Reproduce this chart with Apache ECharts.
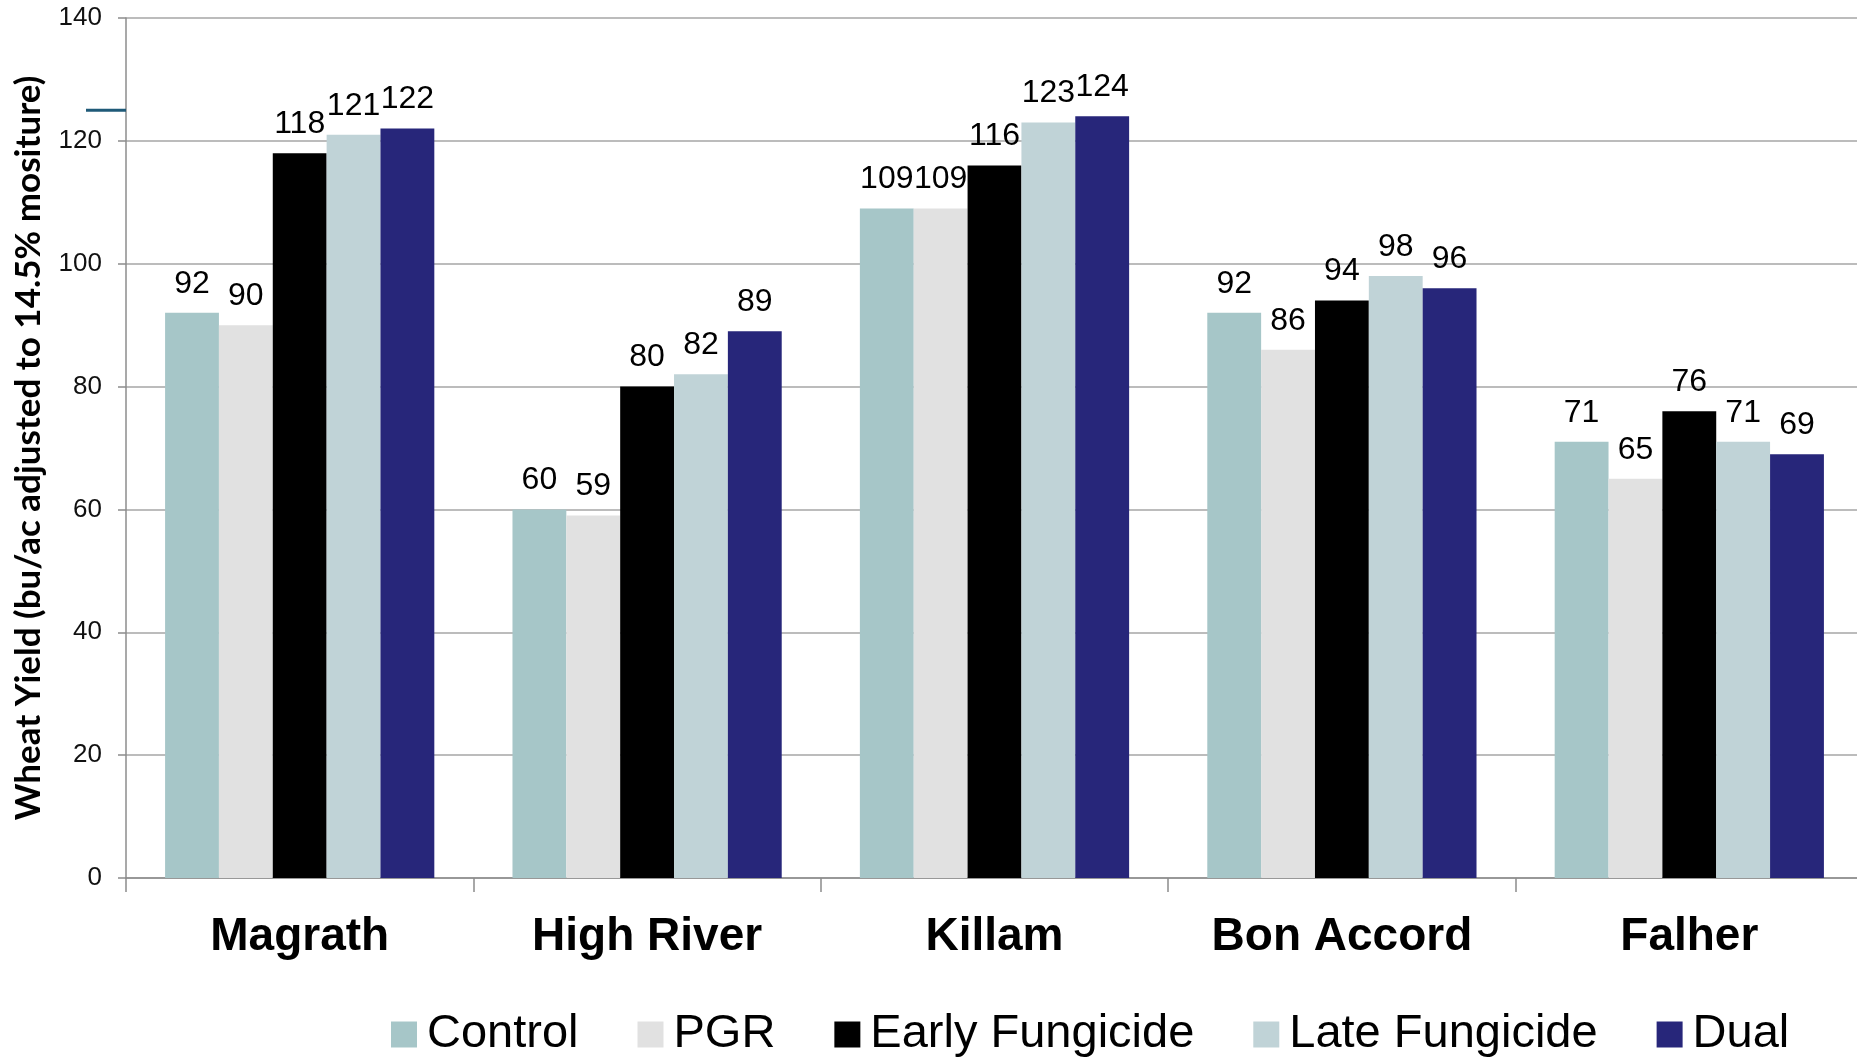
<!DOCTYPE html>
<html>
<head>
<meta charset="utf-8">
<script src="https://cdn.jsdelivr.net/npm/echarts@6/dist/echarts.min.js"></script>
<style>
  html, body { margin: 0; padding: 0; background: #ffffff; }
  #chart { width: 1857px; height: 1057px; }
</style>
</head>
<body>
<div id="chart"></div>
<script>
// Wheat yield by site and treatment (bu/ac, adjusted to 14.5% moisture)
const sites = ['Magrath', 'High River', 'Killam', 'Bon Accord', 'Falher'];
const control = [92, 60, 109, 92, 71];
const pgr = [90, 59, 109, 86, 65];
const earlyFungicide = [118, 80, 116, 94, 76];
const lateFungicide = [121, 82, 123, 98, 71];
const dual = [122, 89, 124, 96, 69];
const yTicks = { min: 0, max: 140, step: 20 };
const refMarkValue = 125;

const FONT = '"Liberation Sans", Arial, sans-serif';

const seriesDefs = [
  { name: 'Control', data: control, color: '#A6C6C8' },
  { name: 'PGR', data: pgr, color: '#E1E1E1' },
  { name: 'Early Fungicide', data: earlyFungicide, color: '#000000' },
  { name: 'Late Fungicide', data: lateFungicide, color: '#C0D3D7' },
  { name: 'Dual', data: dual, color: '#27267A' }
];

const chart = echarts.init(document.getElementById('chart'), null, { renderer: 'canvas' });

chart.setOption({
  backgroundColor: '#ffffff',
  animation: false,
  // plot area runs slightly past the right edge of the canvas
  grid: { left: 126, top: 18, width: 1737, height: 860, containLabel: false, outerBoundsMode: 'none' },
  legend: {
    left: 386,
    top: 1006,
    itemWidth: 26,
    itemHeight: 26,
    itemGap: 59,
    icon: 'rect',
    textStyle: { fontFamily: FONT, fontSize: 47, color: '#000000', padding: [0, 0, 0, 5] },
    data: seriesDefs.map(s => s.name)
  },
  xAxis: {
    type: 'category',
    data: sites,
    axisLine: { lineStyle: { color: '#8C8C8C', width: 1.5 } },
    axisTick: { show: true, length: 14, alignWithLabel: false, lineStyle: { color: '#8C8C8C', width: 1.5 } },
    axisLabel: {
      margin: 36,
      fontFamily: FONT,
      fontSize: 46,
      fontWeight: 'bold',
      color: '#000000'
    }
  },
  yAxis: {
    type: 'value',
    min: yTicks.min,
    max: yTicks.max,
    interval: yTicks.step,
    name: 'Wheat Yield (bu/ac adjusted to 14.5% mositure)',
    nameLocation: 'middle',
    nameGap: 80,
    nameTextStyle: { fontFamily: 'Lato, "Liberation Sans", sans-serif', fontSize: 35, fontWeight: 'bold', color: '#000000' },
    axisLine: { show: true, lineStyle: { color: '#8C8C8C', width: 1.5 } },
    axisTick: { show: true, length: 8, lineStyle: { color: '#8C8C8C', width: 1.5 } },
    axisLabel: { margin: 24, fontFamily: FONT, fontSize: 26, color: '#111111' },
    splitLine: { show: true, lineStyle: { color: '#A6A6A6', width: 1.5 } }
  },
  series: seriesDefs.map(s => ({
    name: s.name,
    type: 'bar',
    data: s.data,
    barGap: '0%',
    barCategoryGap: '22.5%',
    itemStyle: { color: s.color },
    label: {
      show: true,
      position: 'top',
      distance: 13,
      fontFamily: FONT,
      fontSize: 32,
      color: '#000000'
    }
  }))
});

// short dark tick just left of the value axis at the reference level
const y = chart.convertToPixel({ yAxisIndex: 0 }, refMarkValue);
const c0 = chart.convertToPixel({ xAxisIndex: 0 }, 0);
const c1 = chart.convertToPixel({ xAxisIndex: 0 }, 1);
const axisX = c0 - (c1 - c0) / 2;
chart.setOption({
  graphic: [{
    type: 'line',
    shape: { x1: axisX - 40, y1: y, x2: axisX, y2: y },
    style: { stroke: '#1F5A78', lineWidth: 3 },
    z: 100
  }]
});
</script>
</body>
</html>
